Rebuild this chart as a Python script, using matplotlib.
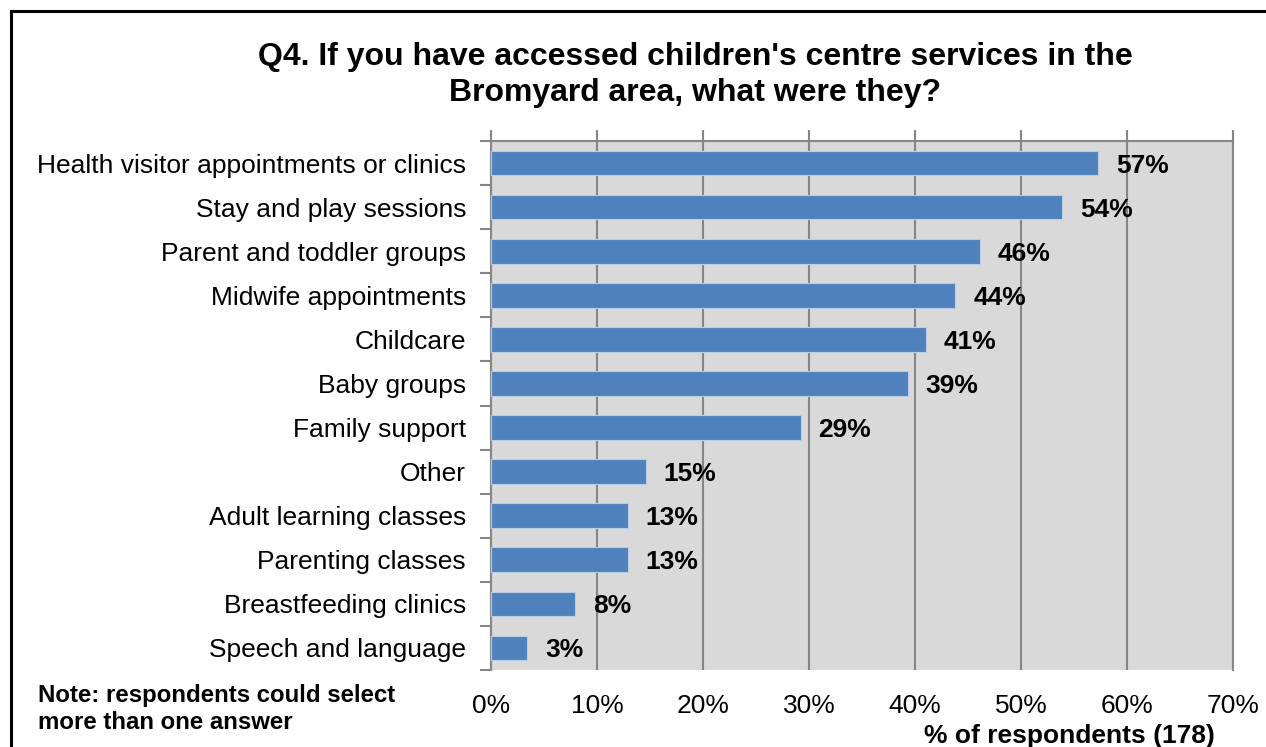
import matplotlib.pyplot as plt
from matplotlib.patches import Rectangle

plt.rcParams['font.family'] = ['Liberation Sans', 'DejaVu Sans']

categories = [
    "Health visitor appointments or clinics",
    "Stay and play sessions",
    "Parent and toddler groups",
    "Midwife appointments",
    "Childcare",
    "Baby groups",
    "Family support",
    "Other",
    "Adult learning classes",
    "Parenting classes",
    "Breastfeeding clinics",
    "Speech and language",
]
values = [57.3, 53.9, 46.1, 43.8, 41.0, 39.3, 29.2, 14.6, 12.9, 12.9, 7.9, 3.4]
value_labels = ["57%", "54%", "46%", "44%", "41%", "39%", "29%", "15%", "13%", "13%", "8%", "3%"]
x_ticks = [0, 10, 20, 30, 40, 50, 60, 70]

fig = plt.figure(figsize=(12.66, 7.47), dpi=100)
ax = fig.add_axes([491 / 1266, 1 - 670 / 747, (1233 - 491) / 1266, (670 - 141) / 747])

# outer frame of the chart
fig.patches.append(Rectangle((11 / 1266, -0.05), 1.2, 1 - 11 / 747 + 0.05,
                             transform=fig.transFigure, fill=False,
                             edgecolor='black', linewidth=2.2))

n = len(categories)
ypos = list(range(n))[::-1]
ax.set_facecolor('#D9D9D9')
ax.barh(ypos, values, height=0.56, color='#4F81BD', edgecolor='#B9CDE5',
        linewidth=0.8, zorder=3)

for y, v, lab in zip(ypos, values, value_labels):
    ax.text(v + 1.7, y, lab, va='center_baseline', ha='left', fontsize=19,
            fontweight='bold', zorder=4)

ax.set_xlim(0, 70)
ax.set_ylim(-0.5, n - 0.5)
ax.set_xticks(x_ticks)
ax.set_xticklabels([f"{t}%" for t in x_ticks], fontsize=19)
ax.xaxis.grid(True, color='#868686', linewidth=1.5, zorder=1)
ax.tick_params(axis='x', bottom=False, top=True, labelbottom=True, labeltop=False,
               length=8, width=1.5, color='#868686', pad=9)

ax.set_yticks(ypos)
ax.set_yticklabels(categories, fontsize=19)
ax.tick_params(axis='y', length=0, pad=18)
ax.set_yticks([i + 0.5 for i in range(-1, n)], minor=True)
ax.tick_params(axis='y', which='minor', length=8, width=1.5, color='#868686')

for side in ['top', 'right']:
    ax.spines[side].set_color('#868686')
    ax.spines[side].set_linewidth(1.5)
ax.spines['left'].set_color('#868686')
ax.spines['left'].set_linewidth(1.5)
ax.spines['bottom'].set_visible(False)

fig.text(695 / 1266, 1 - 75 / 747,
         "Q4. If you have accessed children's centre services in the\nBromyard area, what were they?",
         ha='center', va='center', fontsize=23, fontweight='bold', linespacing=1.3)

fig.text(38 / 1266, 1 - 709 / 747, "Note: respondents could select\nmore than one answer",
         ha='left', va='center', fontsize=17.3, fontweight='bold', linespacing=1.25)

fig.text(1215 / 1266, 1 - 736 / 747, "% of respondents (178)",
         ha='right', va='center', fontsize=19, fontweight='bold')

fig.savefig('out.png', dpi=100)
